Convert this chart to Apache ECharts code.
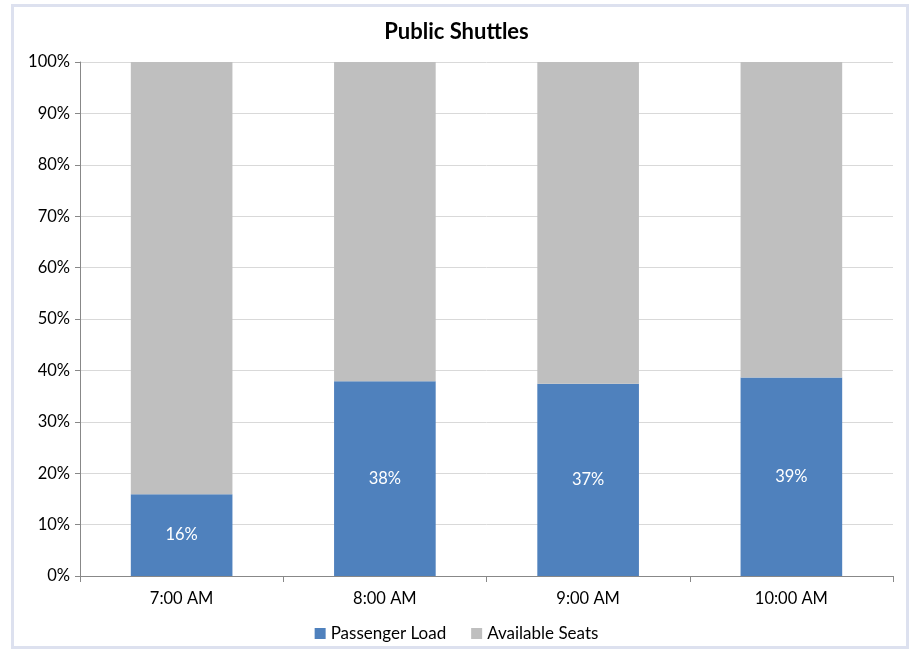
<!DOCTYPE html>
<html>
<head>
<meta charset="utf-8">
<script src="https://cdn.jsdelivr.net/npm/echarts@6/dist/echarts.min.js"></script>
<style>
  html, body { margin: 0; padding: 0; background: #fff; }
  #chart { width: 913px; height: 654px; }
</style>
</head>
<body>
<div id="chart"></div>
<script>
// chart data
const categories = ['7:00 AM', '8:00 AM', '9:00 AM', '10:00 AM'];
const passengerLoad = [15.9, 37.9, 37.4, 38.6];
const availableSeats = [84.1, 62.1, 62.6, 61.4];
const yTicks = [0, 10, 20, 30, 40, 50, 60, 70, 80, 90, 100];

const font = 'Lato, "Open Sans", sans-serif';
const chart = echarts.init(document.getElementById('chart'), null, { renderer: 'canvas' });

chart.setOption({
  animation: false,
  textStyle: { fontFamily: font },
  graphic: [{
    type: 'rect',
    shape: { x: 12.5, y: 5.5, width: 895, height: 642 },
    style: { fill: 'none', stroke: '#dde1ef', lineWidth: 3 },
    silent: true
  }],
  title: {
    text: 'Public Shuttles',
    left: 'center',
    top: 16,
    textStyle: { fontSize: 22, fontWeight: 'bold', color: '#000', fontFamily: font }
  },
  legend: {
    top: 620,
    left: 'center',
    itemWidth: 11,
    itemHeight: 11,
    itemGap: 25,
    icon: 'rect',
    textStyle: { fontSize: 17, color: '#000', fontFamily: font },
    data: ['Passenger Load', 'Available Seats']
  },
  grid: { left: 80, right: 20, top: 62, bottom: 78 },
  xAxis: {
    type: 'category',
    data: categories,
    axisLine: { lineStyle: { color: '#888', width: 1 } },
    axisTick: { show: true, length: 6, alignWithLabel: false, lineStyle: { color: '#888' } },
    axisLabel: { fontSize: 16.5, color: '#000', margin: 14, fontFamily: font }
  },
  yAxis: {
    type: 'value',
    min: yTicks[0],
    max: yTicks[yTicks.length - 1],
    interval: 10,
    axisLine: { show: true, lineStyle: { color: '#888' } },
    axisTick: { show: true, length: 5, lineStyle: { color: '#888' } },
    axisLabel: { fontSize: 16.5, color: '#000', margin: 10, formatter: '{value}%', fontFamily: font },
    splitLine: { lineStyle: { color: '#d9d9d9' } }
  },
  series: [
    {
      name: 'Passenger Load',
      type: 'bar',
      stack: 'total',
      barWidth: '50%',
      data: passengerLoad,
      itemStyle: { color: '#4f81bd' },
      label: {
        show: true,
        position: 'inside',
        color: '#fff',
        fontSize: 16.5,
        fontFamily: font,
        formatter: p => Math.round(p.value) + '%'
      }
    },
    {
      name: 'Available Seats',
      type: 'bar',
      stack: 'total',
      barWidth: '50%',
      data: availableSeats,
      itemStyle: { color: '#bfbfbf' }
    }
  ]
});
</script>
</body>
</html>
